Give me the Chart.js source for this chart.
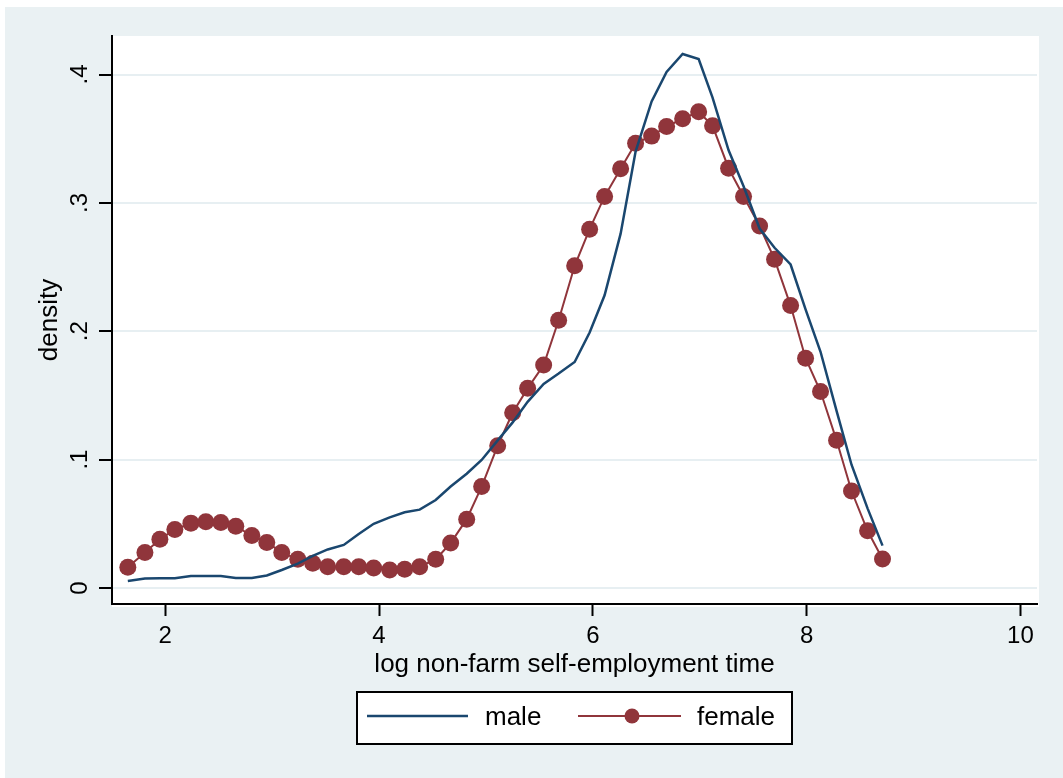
<!DOCTYPE html>
<html>
<head>
<meta charset="utf-8">
<script src="https://cdn.jsdelivr.net/npm/chart.js@4"></script>
<style>
  body { margin: 0; background: #ffffff; }
  canvas { display: block; }
</style>
</head>
<body>
<canvas id="densityChart" width="1063" height="778"></canvas>
<script>
// log non-farm self-employment time (kdensity evaluation points)
const logTime = [1.65, 1.81, 1.95, 2.09, 2.24, 2.38, 2.52, 2.66, 2.81, 2.95,
  3.09, 3.24, 3.38, 3.52, 3.67, 3.81, 3.95, 4.10, 4.24, 4.38,
  4.53, 4.67, 4.82, 4.96, 5.11, 5.25, 5.39, 5.54, 5.68, 5.83,
  5.97, 6.11, 6.26, 6.40, 6.55, 6.69, 6.84, 6.99, 7.12, 7.27,
  7.41, 7.56, 7.70, 7.85, 7.99, 8.13, 8.28, 8.42, 8.57, 8.71];

const maleDensity = [0.0055, 0.0074, 0.0076, 0.0076, 0.0093, 0.0093, 0.0093, 0.0078, 0.0078, 0.0097,
  0.014, 0.019, 0.025, 0.030, 0.0335, 0.042, 0.050, 0.055, 0.059, 0.061,
  0.0685, 0.079, 0.089, 0.0997, 0.115, 0.129, 0.145, 0.159, 0.167, 0.176,
  0.199, 0.228, 0.276, 0.340, 0.379, 0.402, 0.416, 0.412, 0.382, 0.341,
  0.313, 0.280, 0.265, 0.252, 0.217, 0.184, 0.138, 0.096, 0.062, 0.033];

const femaleDensity = [0.0162, 0.0277, 0.038, 0.0455, 0.0505, 0.0516, 0.051, 0.048, 0.0408, 0.0355,
  0.0277, 0.0223, 0.0192, 0.0166, 0.0166, 0.0166, 0.0155, 0.014, 0.0145, 0.0166,
  0.0223, 0.035, 0.0536, 0.079, 0.1108, 0.1365, 0.1555, 0.1737, 0.2085, 0.251,
  0.2795, 0.305, 0.3265, 0.3465, 0.352, 0.3595, 0.3655, 0.371, 0.360, 0.327,
  0.305, 0.282, 0.256, 0.220, 0.179, 0.153, 0.115, 0.0755, 0.0445, 0.0225];

const xTicks = [2, 4, 6, 8, 10];
const yTicks = [0, 0.1, 0.2, 0.3, 0.4];
const yTickLabels = ["0", ".1", ".2", ".3", ".4"];

const maleColor = "#1a476f";
const femaleColor = "#90353b";
const outerBg = "#eaf1f3";

// background + plot region
const backgroundPlugin = {
  id: "stataBackground",
  beforeDraw(chart) {
    const { ctx, chartArea } = chart;
    ctx.save();
    ctx.fillStyle = "#ffffff";
    ctx.fillRect(0, 0, chart.width, chart.height);
    ctx.fillStyle = outerBg;
    ctx.fillRect(5, 7, chart.width - 5, chart.height - 7);
    ctx.fillStyle = "#ffffff";
    ctx.fillRect(chartArea.left, chartArea.top, chartArea.right - chartArea.left + 2, chartArea.bottom - chartArea.top + 3);
    ctx.restore();
  },
};

// boxed legend below the axis title
const legendPlugin = {
  id: "stataLegend",
  afterDraw(chart) {
    const { ctx } = chart;
    ctx.save();
    ctx.fillStyle = "#ffffff";
    ctx.fillRect(357, 692, 435, 52);
    ctx.strokeStyle = "#000000";
    ctx.lineWidth = 2;
    ctx.strokeRect(357, 692, 435, 52);

    ctx.lineWidth = 2.5;
    ctx.strokeStyle = maleColor;
    ctx.beginPath();
    ctx.moveTo(367, 716);
    ctx.lineTo(468, 716);
    ctx.stroke();

    ctx.lineWidth = 2;
    ctx.strokeStyle = femaleColor;
    ctx.beginPath();
    ctx.moveTo(578, 716);
    ctx.lineTo(681, 716);
    ctx.stroke();
    ctx.fillStyle = femaleColor;
    ctx.beginPath();
    ctx.arc(632, 716, 7.5, 0, Math.PI * 2);
    ctx.fill();

    ctx.fillStyle = "#000000";
    ctx.font = "26px 'Liberation Sans', Arial, sans-serif";
    ctx.textBaseline = "alphabetic";
    ctx.textAlign = "left";
    ctx.fillText("male", 485, 725);
    ctx.fillText("female", 697, 725);
    ctx.restore();
  },
};

const ctx = document.getElementById("densityChart").getContext("2d");
new Chart(ctx, {
  type: "line",
  data: {
    datasets: [
      {
        label: "male",
        data: logTime.map((x, i) => ({ x: x, y: maleDensity[i] })),
        borderColor: maleColor,
        borderWidth: 2.5,
        pointRadius: 0,
        tension: 0,
        fill: false,
      },
      {
        label: "female",
        data: logTime.map((x, i) => ({ x: x, y: femaleDensity[i] })),
        borderColor: femaleColor,
        backgroundColor: femaleColor,
        borderWidth: 2,
        pointRadius: 8.5,
        pointBorderWidth: 0,
        pointBackgroundColor: femaleColor,
        tension: 0,
        fill: false,
      },
    ],
  },
  options: {
    responsive: false,
    animation: false,
    layout: { padding: { left: 0, top: 36, right: 26, bottom: 0 } },
    plugins: {
      legend: { display: false },
      tooltip: { enabled: false },
    },
    scales: {
      x: {
        type: "linear",
        min: 1.502,
        max: 10.155,
        afterFit: (scale) => { scale.height = 174; },
        afterBuildTicks: (scale) => { scale.ticks = xTicks.map((v) => ({ value: v })); },
        grid: {
          drawOnChartArea: false,
          drawTicks: true,
          tickLength: 12,
          tickWidth: 2,
          tickColor: "#000000",
        },
        border: { display: true, color: "#000000", width: 2 },
        ticks: {
          color: "#000000",
          padding: 6,
          font: { family: "'Liberation Sans', Arial, sans-serif", size: 24 },
          callback: (v) => String(v),
        },
        title: {
          display: true,
          text: "log non-farm self-employment time",
          color: "#000000",
          font: { family: "'Liberation Sans', Arial, sans-serif", size: 26 },
          padding: { top: 0, bottom: 98 },
        },
      },
      y: {
        type: "linear",
        min: -0.0125,
        max: 0.43,
        afterFit: (scale) => { scale.width = 112; },
        afterBuildTicks: (scale) => { scale.ticks = yTicks.map((v) => ({ value: v })); },
        grid: {
          drawOnChartArea: true,
          color: "#e7eff2",
          lineWidth: 2,
          drawTicks: true,
          tickLength: 13,
          tickWidth: 2,
          tickColor: "#000000",
        },
        border: { display: true, color: "#000000", width: 2 },
        ticks: {
          color: "#000000",
          padding: 9,
          minRotation: 90,
          maxRotation: 90,
          crossAlign: "center",
          font: { family: "'Liberation Sans', Arial, sans-serif", size: 24 },
          callback: (v) => yTickLabels[yTicks.indexOf(v)] ?? "",
        },
        title: {
          display: true,
          text: "density",
          color: "#000000",
          font: { family: "'Liberation Sans', Arial, sans-serif", size: 26 },
          padding: { top: 34, bottom: 0 },
        },
      },
    },
  },
  plugins: [backgroundPlugin, legendPlugin],
});
</script>
</body>
</html>
